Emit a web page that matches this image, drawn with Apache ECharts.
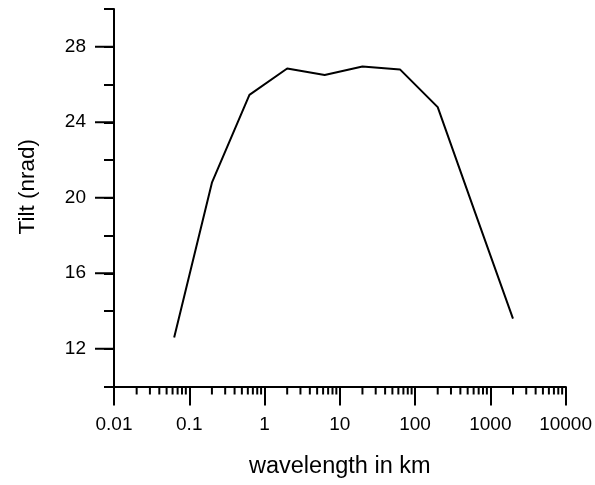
<!DOCTYPE html>
<html>
<head>
<meta charset="utf-8">
<title>Tilt vs wavelength</title>
<script src="https://cdn.jsdelivr.net/npm/echarts@6/dist/echarts.min.js"></script>
<style type="text/css">
html, body { margin: 0; padding: 0; background: #fff; }
#chart { width: 595px; height: 485px; }
</style>
</head>
<body>
<div id="chart"></div>
<script type="text/javascript">
	// wavelength (km) and tilt (nrad)
	var wavelength = [0.063, 0.2, 0.63, 2, 6.3, 20, 63, 200, 630, 2000];
	var tilt = [12.6, 20.8, 25.45, 26.85, 26.5, 26.95, 26.8, 24.8, 19.2, 13.6];

	// tick values
	var yLabelTicks = [12, 16, 20, 24, 28];
	var xMinorTicks = [];
	var decades = [0.01, 0.1, 1, 10, 100, 1000];
	for (var i = 0; i < decades.length; i++) {
		for (var m = 2; m <= 9; m++) {
			xMinorTicks.push(+(decades[i] * m).toPrecision(3));
		}
	}

	var FONT = 'Liberation Sans';
	var chart = echarts.init(document.getElementById('chart'));

	var option = {
		animation: false,
		grid: { left: 114, top: 9, right: 29, bottom: 98.5 },
		xAxis: {
			type: 'log',
			logBase: 10,
			min: 0.01,
			max: 10000,
			name: 'wavelength in km',
			nameLocation: 'middle',
			nameGap: 68,
			nameTextStyle: { fontFamily: FONT, fontSize: 23.5, color: '#000' },
			axisLine: { onZero: false, lineStyle: { color: '#000', width: 2 } },
			axisTick: { show: true, length: 19, lineStyle: { color: '#000', width: 2 } },
			axisLabel: {
				margin: 29,
				fontFamily: FONT, fontSize: 19, color: '#000',
				formatter: function (v) { return String(+v.toPrecision(3)); }
			},
			splitLine: { show: false }
		},
		yAxis: {
			type: 'value',
			min: 10,
			max: 30,
			interval: 2,
			name: 'Tilt (nrad)',
			nameLocation: 'middle',
			nameGap: 75,
			nameTextStyle: { fontFamily: FONT, fontSize: 22.5, color: '#000', padding: [0, 0, 0, 22] },
			axisLine: { onZero: false, lineStyle: { color: '#000', width: 2 } },
			axisTick: { show: true, length: 10, lineStyle: { color: '#000', width: 2 } },
			axisLabel: {
				margin: 28,
				fontFamily: FONT, fontSize: 19, color: '#000',
				formatter: function (v) { return yLabelTicks.indexOf(v) >= 0 ? String(v) : ''; }
			},
			splitLine: { show: false }
		},
		series: [
			{
				type: 'line',
				data: wavelength.map(function (w, i) { return [w, tilt[i]]; }),
				showSymbol: false,
				symbol: 'none',
				lineStyle: { color: '#000', width: 2 }
			},
			{
				// minor ticks on the log axis
				type: 'custom',
				silent: true,
				clip: false,
				data: xMinorTicks.map(function (v) { return [v, 10]; }),
				renderItem: function (params, api) {
					var p = api.coord([api.value(0), api.value(1)]);
					return {
						type: 'line',
						shape: { x1: p[0], y1: p[1], x2: p[0], y2: p[1] + 8 },
						style: { stroke: '#000', lineWidth: 2 }
					};
				}
			},
			{
				// longer ticks at labelled tilt values
				type: 'custom',
				silent: true,
				clip: false,
				data: yLabelTicks.map(function (v) { return [0.01, v]; }),
				renderItem: function (params, api) {
					var p = api.coord([api.value(0), api.value(1)]);
					return {
						type: 'line',
						shape: { x1: p[0] - 19, y1: p[1], x2: p[0], y2: p[1] },
						style: { stroke: '#000', lineWidth: 2 }
					};
				}
			}
		]
	};
	chart.setOption(option);
</script>
</body>
</html>
